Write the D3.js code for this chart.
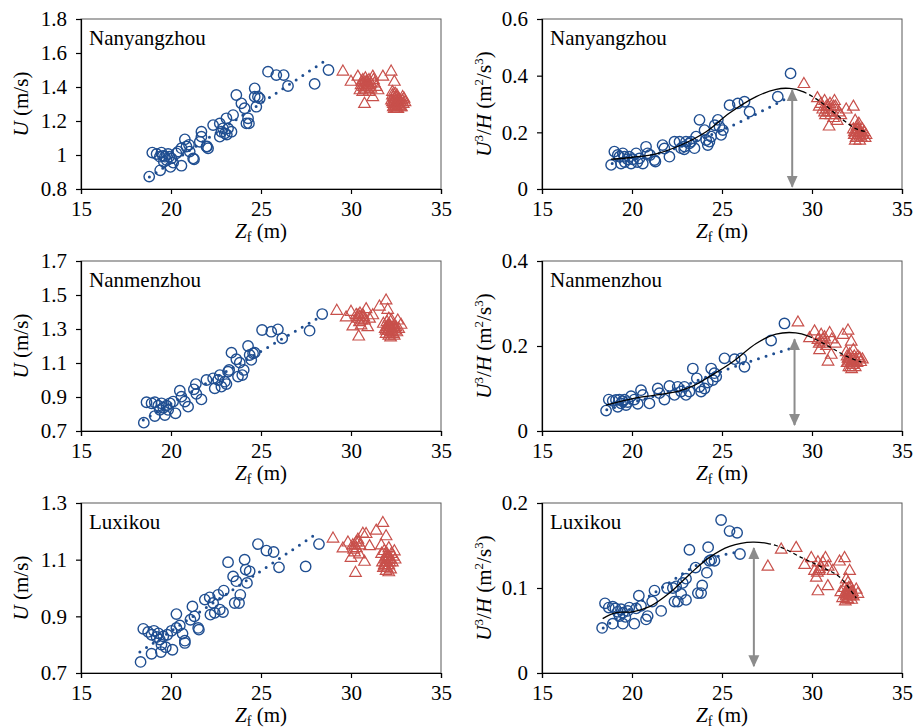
<!DOCTYPE html>
<html>
<head>
<meta charset="utf-8">
<script src="https://cdn.jsdelivr.net/npm/d3@7"></script>
<style>
  body { margin: 0; background: #fff; }
</style>
</head>
<body>
<div id="chart"></div>
<script>
// ---- data (Zf in m, U in m/s, U^3/H in m2/s3) ----
var stations = ["Nanyangzhou", "Nanmenzhou", "Luxikou"];
var xTicks = [15, 20, 25, 30, 35];
var yTicksU = [[0.8, 1, 1.2, 1.4, 1.6, 1.8], [0.7, 0.9, 1.1, 1.3, 1.5, 1.7], [0.7, 0.9, 1.1, 1.3]];
var yTicksP = [[0, 0.2, 0.4, 0.6], [0, 0.2, 0.4], [0, 0.1, 0.2]];

// Nanyangzhou, U
var nyU_circ = [[18.79,0.873],[18.96,1.014],[19.2,1.006],[19.38,0.99],[19.47,1.014],[19.55,0.995],[19.4,0.91],[19.66,0.99],
  [19.75,0.97],[19.84,1.006],[19.97,0.93],[20.03,0.98],[20.12,0.955],[20.3,1.01],[20.58,1.04],[20.58,0.937],[20.77,1.092],
  [20.86,1.05],[21.04,1.02],[21.23,0.98],[21.28,0.975],[21.6,1.078],[21.69,1.137],[21.69,1.108],[21.97,1.049],[22.06,1.039],
  [22.34,1.176],[22.71,1.186],[22.71,1.108],[22.8,1.137],[22.89,1.157],[22.99,1.127],[23.08,1.216],[23.17,1.157],[23.36,1.137],
  [23.45,1.235],[23.63,1.353],[23.91,1.304],[24.09,1.275],[24.19,1.186],[24.28,1.216],[24.33,1.186],[24.65,1.392],[24.65,1.343],
  [24.74,1.284],[24.83,1.343],[24.93,1.333],[25.39,1.49],[25.85,1.47],[26.26,1.47],[26.5,1.406],[27.98,1.418],[28.75,1.5],
  [19.6,0.96],[19.9,0.99],[20.4,1.02],[21.0,1.06],[22.0,1.05],[23.1,1.12]];
var nyU_tri = [[29.55,1.49],[30.0,1.43],[30.38,1.46],[30.5,1.38],[30.56,1.41],[30.66,1.44],[30.7,1.42],[30.75,1.39],[30.75,1.30],
  [30.8,1.45],[30.85,1.40],[30.9,1.43],[31.0,1.37],[31.05,1.41],[31.1,1.39],[31.21,1.46],[31.25,1.44],[31.21,1.34],[31.3,1.42],
  [31.4,1.40],[31.5,1.38],[31.77,1.46],[32.23,1.49],[32.41,1.43],[32.3,1.37],[32.25,1.32],[32.3,1.35],[32.35,1.30],[32.4,1.27],
  [32.45,1.33],[32.5,1.29],[32.55,1.31],[32.6,1.27],[32.65,1.33],[32.7,1.29],[32.75,1.31],[32.8,1.28],[32.85,1.32],[32.9,1.30],
  [32.95,1.33],[33.0,1.31],[32.45,1.36],[32.6,1.30],[32.4,1.29],[32.55,1.27],[32.87,1.34],[30.6,1.43],[30.95,1.41],
  [32.3,1.31],[32.35,1.34],[32.4,1.31],[32.45,1.30],[32.5,1.34],[32.5,1.27],[32.55,1.35],[32.6,1.32],[32.65,1.29],[32.7,1.32],
  [32.75,1.28],[32.4,1.33],[32.35,1.28],[32.55,1.30],[32.45,1.28],[30.7,1.40],[30.8,1.38],[30.9,1.41],[31.0,1.44],[30.65,1.37],
  [30.85,1.43],[31.1,1.42]];
var nyU_fit = [[18.8,0.87],[28.5,1.55]];

// Nanyangzhou, U^3/H
var nyP_circ = [[18.84,0.085],[19.02,0.132],[19.21,0.12],[19.3,0.114],[19.39,0.09],[19.49,0.126],[19.58,0.114],[19.76,0.105],
  [19.85,0.114],[19.95,0.09],[20.04,0.105],[20.23,0.126],[20.41,0.108],[20.6,0.09],[20.78,0.149],[20.87,0.126],[21.25,0.102],
  [21.3,0.097],[21.7,0.155],[21.8,0.143],[22.08,0.114],[22.36,0.167],[22.64,0.167],[22.73,0.144],[22.92,0.15],[23.0,0.167],
  [23.19,0.161],[23.28,0.167],[23.47,0.144],[23.56,0.185],[23.75,0.244],[24.03,0.208],[24.12,0.173],[24.21,0.155],[24.3,0.167],
  [24.4,0.185],[24.77,0.244],[24.86,0.22],[24.95,0.191],[25.05,0.208],[25.42,0.296],[25.88,0.302],[26.25,0.308],[26.53,0.273],
  [28.1,0.326],[28.81,0.408],[19.6,0.095],[20.3,0.095],[21.0,0.12],[22.9,0.14],[24.6,0.225]];
var nyP_tri = [[29.55,0.37],[30.3,0.32],[30.5,0.30],[30.6,0.28],[30.7,0.31],[30.75,0.26],[30.8,0.29],[30.9,0.27],[30.95,0.22],
  [31.0,0.30],[31.1,0.28],[31.2,0.25],[31.25,0.31],[31.3,0.29],[31.4,0.24],[31.5,0.27],[31.6,0.26],[31.9,0.28],[32.3,0.29],
  [32.4,0.24],[32.5,0.22],[32.3,0.21],[32.35,0.19],[32.45,0.2],[32.5,0.18],[32.55,0.21],[32.6,0.19],[32.65,0.17],[32.7,0.2],
  [32.75,0.18],[32.8,0.21],[32.85,0.19],[32.9,0.2],[32.95,0.18],[33.0,0.19],[32.4,0.17],[32.6,0.23],[30.4,0.29],[31.05,0.26],
  [32.4,0.19],[32.45,0.18],[32.5,0.2],[32.55,0.19],[32.6,0.2],[32.7,0.19],[32.35,0.2],[32.8,0.19],[32.65,0.185],[32.5,0.21],
  [30.8,0.28],[30.9,0.29],[31.0,0.27],[30.7,0.27],[31.2,0.29]];
var nyP_fit = [[18.9,0.09],[22.0,0.135],[24.9,0.205],[28.6,0.32]];
var nyP_curve = [[18.84,0.105],[20.04,0.112],[21.34,0.124],[22.82,0.158],[24.12,0.202],[25.42,0.268],[26.9,0.326],[28.01,0.352],
  [28.75,0.355],[29.49,0.344],[30.6,0.302],[31.72,0.244],[32.46,0.212],[33.02,0.202]];
var nyP_arrow = [28.9, 0.349, 0.008];

// Nanmenzhou, U
var nmU_circ = [[18.49,0.749],[18.64,0.869],[18.92,0.863],[19.1,0.869],[19.1,0.788],[19.29,0.849],[19.38,0.824],[19.47,0.863],
  [19.57,0.837],[19.66,0.794],[19.75,0.849],[19.84,0.824],[19.94,0.863],[20.12,0.873],[20.25,0.804],[20.49,0.937],[20.58,0.902],
  [20.77,0.873],[20.95,0.843],[21.27,0.945],[21.38,0.976],[21.41,0.918],[21.69,0.886],[21.97,1.0],[22.34,1.01],[22.43,0.951],
  [22.62,1.0],[22.71,1.029],[22.8,0.961],[22.99,0.99],[23.08,0.976],[23.17,1.049],[23.23,1.059],[23.36,1.161],[23.63,1.122],
  [23.72,1.02],[23.82,1.102],[23.96,1.029],[24.04,1.059],[24.28,1.2],[24.37,1.147],[24.46,1.118],[24.56,1.157],[24.65,1.161],
  [25.06,1.294],[25.57,1.284],[25.94,1.298],[26.18,1.245],[27.7,1.29],[28.4,1.388]];
var nmU_tri = [[29.21,1.406],[29.73,1.367],[30.0,1.40],[30.1,1.314],[30.29,1.382],[30.38,1.36],[30.47,1.34],[30.56,1.32],
  [30.43,1.255],[30.66,1.38],[30.84,1.416],[30.93,1.31],[31.03,1.36],[31.21,1.38],[31.58,1.431],[31.95,1.467],[32.04,1.412],
  [32.1,1.36],[31.8,1.33],[31.9,1.30],[31.95,1.27],[32.0,1.34],[32.05,1.29],[32.1,1.26],[32.15,1.32],[32.2,1.28],[32.25,1.35],
  [32.3,1.30],[32.35,1.27],[32.4,1.32],[32.45,1.29],[32.5,1.31],[32.55,1.28],[32.6,1.349],[32.65,1.30],[32.78,1.324],[32.2,1.25],
  [32.4,1.26],[30.5,1.39],[30.75,1.35],[32.0,1.31],[32.1,1.29],[32.2,1.31],[32.3,1.28],[32.15,1.27],[32.25,1.30],[32.05,1.32],
  [31.95,1.29],[32.35,1.31],[32.45,1.30],[30.5,1.37],[30.6,1.35],[30.4,1.38],[30.7,1.37]];
var nmU_fit = [[18.46,0.765],[28.35,1.376]];

// Nanmenzhou, U^3/H
var nmP_circ = [[18.56,0.048],[18.71,0.074],[18.93,0.071],[19.11,0.073],[19.21,0.057],[19.3,0.074],[19.39,0.065],[19.48,0.07],
  [19.58,0.074],[19.67,0.061],[19.76,0.068],[19.95,0.082],[20.13,0.074],[20.32,0.064],[20.5,0.096],[20.6,0.085],[20.97,0.065],
  [21.43,0.1],[21.52,0.089],[21.8,0.074],[22.08,0.106],[22.36,0.085],[22.54,0.104],[22.73,0.093],[22.91,0.104],[23.0,0.085],
  [23.19,0.093],[23.38,0.147],[23.6,0.124],[23.75,0.104],[23.84,0.093],[24.03,0.1],[24.21,0.114],[24.4,0.147],[24.49,0.12],
  [24.58,0.136],[24.68,0.128],[25.14,0.171],[25.7,0.169],[26.07,0.171],[26.25,0.151],[27.73,0.213],[28.47,0.253]];
var nmP_tri = [[29.22,0.255],[29.86,0.218],[30.14,0.234],[30.33,0.214],[30.42,0.19],[30.51,0.226],[30.6,0.205],[30.7,0.22],
  [30.89,0.163],[30.98,0.23],[31.07,0.179],[31.1,0.215],[31.3,0.205],[31.72,0.226],[32.0,0.236],[32.18,0.21],[31.9,0.185],
  [31.95,0.16],[32.0,0.17],[32.05,0.15],[32.1,0.18],[32.15,0.16],[32.2,0.145],[32.25,0.17],[32.3,0.155],[32.35,0.175],
  [32.4,0.15],[32.45,0.165],[32.5,0.16],[32.55,0.175],[32.65,0.171],[32.7,0.162],[32.8,0.168],[32.3,0.19],[30.8,0.2],
  [32.0,0.16],[32.1,0.165],[32.2,0.16],[32.15,0.15],[32.25,0.155],[32.3,0.165],[32.05,0.17],[32.35,0.16],[31.95,0.175],
  [30.5,0.21],[30.6,0.215],[30.4,0.205]];
var nmP_fit = [[18.6,0.05],[22.0,0.093],[25.4,0.147],[28.8,0.194]];
var nmP_curve = [[18.56,0.061],[20.23,0.078],[21.6,0.086],[22.6,0.094],[23.4,0.106],[24.3,0.128],[25.6,0.163],[26.9,0.206],
  [28.0,0.228],[29.1,0.231],[29.87,0.222],[30.98,0.198],[31.9,0.176],[32.74,0.162]];
var nmP_arrow = [29.03, 0.216, 0.014];

// Luxikou, U
var lxU_circ = [[18.31,0.739],[18.46,0.856],[18.73,0.845],[18.92,0.835],[18.92,0.768],[19.05,0.849],[19.2,0.827],[19.3,0.84],
  [19.38,0.818],[19.47,0.80],[19.57,0.829],[19.44,0.774],[19.71,0.791],[19.79,0.835],[20.03,0.849],[20.08,0.782],[20.3,0.859],
  [20.3,0.908],[20.49,0.868],[20.64,0.839],[20.77,0.814],[20.77,0.806],[21.08,0.888],[21.19,0.935],[21.3,0.90],[21.51,0.859],
  [21.55,0.853],[21.88,0.959],[22.15,0.967],[22.19,0.906],[22.34,0.947],[22.43,0.912],[22.62,0.976],[22.71,0.924],[22.89,0.915],
  [22.93,0.991],[23.17,1.091],[23.45,1.041],[23.54,0.947],[23.63,1.024],[23.78,0.947],[23.85,0.976],[24.09,1.1],[24.15,1.065],
  [24.22,1.018],[24.37,1.059],[24.83,1.155],[25.3,1.132],[25.7,1.127],[26.0,1.073],[27.48,1.076],[28.22,1.155]];
var lxU_tri = [[29.0,1.174],[29.55,1.139],[29.83,1.16],[30.0,1.106],[30.1,1.15],[30.2,1.125],[30.29,1.16],[30.38,1.17],
  [30.47,1.118],[30.66,1.191],[30.75,1.092],[30.84,1.19],[31.03,1.147],[30.25,1.053],[31.4,1.202],[31.77,1.229],[31.95,1.182],
  [31.68,1.15],[31.7,1.12],[31.75,1.09],[31.8,1.07],[31.85,1.13],[31.9,1.10],[31.95,1.06],[32.0,1.12],[32.05,1.08],[32.1,1.14],
  [32.15,1.10],[32.2,1.065],[32.25,1.12],[32.3,1.09],[32.35,1.11],[32.41,1.129],[32.45,1.10],[32.1,1.055],[31.9,1.075],
  [30.15,1.135],[30.5,1.15],[31.9,1.09],[32.0,1.10],[32.1,1.08],[32.0,1.07],[32.15,1.09],[31.95,1.11],[32.2,1.10],[31.85,1.08],
  [32.05,1.11],[30.2,1.15],[30.3,1.14],[30.4,1.16]];
var lxU_fit = [[18.27,0.774],[28.07,1.191]];

// Luxikou, U^3/H
var lxP_circ = [[18.34,0.053],[18.5,0.082],[18.71,0.077],[18.93,0.078],[18.93,0.058],[19.08,0.076],[19.2,0.072],[19.3,0.067],
  [19.39,0.075],[19.49,0.058],[19.5,0.071],[19.63,0.066],[19.76,0.073],[19.85,0.077],[20.13,0.058],[20.23,0.076],[20.38,0.091],
  [20.5,0.079],[20.78,0.063],[20.87,0.067],[21.12,0.084],[21.25,0.097],[21.62,0.073],[21.95,0.1],[22.27,0.1],[22.36,0.084],
  [22.45,0.102],[22.55,0.084],[22.73,0.093],[22.82,0.106],[23.0,0.086],[23.0,0.111],[23.19,0.145],[23.53,0.124],[23.66,0.094],
  [23.84,0.094],[23.9,0.103],[24.16,0.118],[24.23,0.148],[24.3,0.132],[24.4,0.133],[24.58,0.132],[24.95,0.18],[25.42,0.167],
  [25.84,0.165],[26.0,0.14]];
var lxP_tri = [[27.55,0.125],[28.29,0.145],[29.12,0.147],[29.59,0.127],[29.96,0.135],[30.14,0.12],[30.24,0.112],[30.33,0.13],
  [30.42,0.122],[30.6,0.13],[30.75,0.135],[30.33,0.096],[30.88,0.102],[31.16,0.12],[31.53,0.131],[31.81,0.135],[32.09,0.12],
  [32.0,0.106],[31.6,0.095],[31.7,0.088],[31.8,0.10],[31.85,0.084],[31.9,0.092],[31.95,0.098],[32.0,0.086],[32.05,0.094],
  [32.1,0.09],[32.15,0.1],[32.2,0.086],[32.25,0.095],[32.3,0.09],[32.46,0.098],[32.55,0.093],[31.9,0.11],[30.9,0.125],
  [31.9,0.09],[32.0,0.095],[32.1,0.092],[31.95,0.087],[32.05,0.1],[32.15,0.094],[31.85,0.093],[32.2,0.091],[30.4,0.12],
  [30.5,0.125],[30.3,0.118]];
var lxP_fit = [[18.4,0.053],[21.5,0.098],[24.3,0.134],[25.8,0.142]];
var lxP_curve = [[18.37,0.064],[19.11,0.071],[20.04,0.072],[20.97,0.078],[22.08,0.094],[23.19,0.116],[24.3,0.136],[25.42,0.149],
  [26.71,0.154],[28.0,0.15],[29.5,0.135],[30.6,0.124],[31.53,0.113],[32.46,0.088]];
var lxP_arrow = [26.77, 0.147, 0.008];

// ---- layout ----
var W = 916, H = 728;
var colLeft = [81, 542], rowTop = [19, 261, 503];
var pw = 360, ph = 170;
var blue = "#1f4e91", red = "#c8504b", gray = "#8c8c8c";
var serif = '"Liberation Serif", "Times New Roman", serif';
var fontSize = 21;

var panels = [
  { row: 0, col: 0, name: stations[0], kind: "U", domain: [0.8, 1.8], ticks: yTicksU[0], circ: nyU_circ, tri: nyU_tri, fit: nyU_fit },
  { row: 0, col: 1, name: stations[0], kind: "P", domain: [0, 0.6], ticks: yTicksP[0], circ: nyP_circ, tri: nyP_tri, fit: nyP_fit, curve: nyP_curve, split: 29.5, arrow: nyP_arrow },
  { row: 1, col: 0, name: stations[1], kind: "U", domain: [0.7, 1.7], ticks: yTicksU[1], circ: nmU_circ, tri: nmU_tri, fit: nmU_fit },
  { row: 1, col: 1, name: stations[1], kind: "P", domain: [0, 0.4], ticks: yTicksP[1], circ: nmP_circ, tri: nmP_tri, fit: nmP_fit, curve: nmP_curve, split: 29.8, arrow: nmP_arrow },
  { row: 2, col: 0, name: stations[2], kind: "U", domain: [0.7, 1.3], ticks: yTicksU[2], circ: lxU_circ, tri: lxU_tri, fit: lxU_fit },
  { row: 2, col: 1, name: stations[2], kind: "P", domain: [0, 0.2], ticks: yTicksP[2], circ: lxP_circ, tri: lxP_tri, fit: lxP_fit, curve: lxP_curve, split: 27.5, arrow: lxP_arrow }
];

var svg = d3.select("#chart").append("svg")
  .attr("width", W)
  .attr("height", H);

// arrow heads
svg.append("defs").append("marker")
  .attr("id", "ahead")
  .attr("markerUnits", "userSpaceOnUse")
  .attr("viewBox", "0 0 12 12")
  .attr("refX", 11).attr("refY", 6)
  .attr("markerWidth", 12).attr("markerHeight", 12)
  .attr("orient", "auto-start-reverse")
  .append("path")
  .attr("d", "M0,0.5 L12,6 L0,11.5 Z")
  .attr("fill", gray);

panels.forEach(function(p) {
  var x0 = colLeft[p.col], y0 = rowTop[p.row];
  var g = svg.append("g").attr("transform", `translate(${x0}, ${y0})`);

  var x = d3.scaleLinear().domain([15, 35]).range([0, pw]);
  var y = d3.scaleLinear().domain(p.domain).range([ph, 0]);

  // frame
  g.append("rect")
    .attr("width", pw).attr("height", ph)
    .attr("fill", "none")
    .attr("stroke", "#595959")
    .attr("stroke-width", 1);

  // axes
  var xAxis = d3.axisBottom(x).tickValues(xTicks).tickSizeOuter(0).tickSize(5).tickPadding(4);
  var yAxis = d3.axisLeft(y).tickValues(p.ticks).tickSizeOuter(0).tickSize(5).tickPadding(9)
    .tickFormat(d => String(d));

  var gx = g.append("g").attr("transform", `translate(0, ${ph})`).call(xAxis);
  var gy = g.append("g").call(yAxis);
  [gx, gy].forEach(function(a) {
    a.attr("font-family", null).attr("font-size", null);
    a.select(".domain").attr("stroke", "#000").attr("stroke-width", 1.2);
    a.selectAll(".tick line").attr("stroke", "#000").attr("stroke-width", 1.2);
    a.selectAll(".tick text")
      .style("font-family", serif)
      .style("font-size", fontSize + "px")
      .attr("fill", "#000");
  });
  gx.selectAll(".tick text").attr("dy", "0.85em");

  // x label
  var xl = g.append("text")
    .attr("x", pw / 2)
    .attr("y", ph + 49)
    .attr("text-anchor", "middle")
    .style("font-family", serif)
    .style("font-size", fontSize + "px");
  xl.append("tspan").attr("font-style", "italic").text("Z");
  xl.append("tspan").style("font-size", "14px").attr("dy", 4).text("f");
  xl.append("tspan").attr("dy", -4).text(" (m)");

  // y label
  var yl = g.append("text")
    .attr("transform", `translate(${p.col === 0 ? -60 : -58}, ${ph / 2}) rotate(-90)`)
    .attr("text-anchor", "middle")
    .attr("dy", "0.35em")
    .style("font-family", serif)
    .style("font-size", fontSize + "px");
  if (p.kind === "U") {
    yl.append("tspan").attr("font-style", "italic").text("U");
    yl.append("tspan").text(" (m/s)");
  } else {
    var sup = function(t) {
      yl.append("tspan").style("font-size", "13px").attr("dy", -8).text(t);
    };
    yl.append("tspan").attr("font-style", "italic").text("U");
    sup("3");
    yl.append("tspan").attr("dy", 8).text("/");
    yl.append("tspan").attr("font-style", "italic").text("H");
    yl.append("tspan").text(" (m");
    sup("2");
    yl.append("tspan").attr("dy", 8).text("/s");
    sup("3");
    yl.append("tspan").attr("dy", 8).text(")");
  }

  // station name
  g.append("text")
    .attr("x", 8)
    .attr("y", 26)
    .style("font-family", serif)
    .style("font-size", fontSize + "px")
    .text(p.name);

  var line = d3.line().x(d => x(d[0])).y(d => y(d[1])).curve(d3.curveMonotoneX);

  // blue dotted fit
  g.append("path")
    .datum(p.fit)
    .attr("d", line)
    .attr("fill", "none")
    .attr("stroke", blue)
    .attr("stroke-width", 3)
    .attr("stroke-linecap", "round")
    .attr("stroke-dasharray", "0,8");

  // circles
  g.append("g").selectAll("circle")
    .data(p.circ)
    .enter()
    .append("circle")
    .attr("cx", d => x(d[0]))
    .attr("cy", d => y(d[1]))
    .attr("r", 5.2)
    .attr("fill", "none")
    .attr("stroke", blue)
    .attr("stroke-width", 1.4);

  // triangles
  var tri = d3.symbol().type(d3.symbolTriangle).size(58);
  g.append("g").selectAll("path")
    .data(p.tri)
    .enter()
    .append("path")
    .attr("d", tri)
    .attr("transform", d => `translate(${x(d[0])}, ${y(d[1])})`)
    .attr("fill", "none")
    .attr("stroke", red)
    .attr("stroke-width", 1.2);

  // fitted curve: solid over the circles, dashed over the triangles
  if (p.curve) {
    var cl = d3.line().x(d => x(d[0])).y(d => y(d[1])).curve(d3.curveCatmullRom);
    var full = g.append("path")
      .datum(p.curve)
      .attr("d", cl)
      .attr("fill", "none")
      .attr("stroke", "#000")
      .attr("stroke-width", 1.3);
    var node = full.node();
    var total = node.getTotalLength();
    var lo = 0, hi = total;
    for (var i = 0; i < 30; i++) {
      var mid = (lo + hi) / 2;
      if (node.getPointAtLength(mid).x < x(p.split)) lo = mid; else hi = mid;
    }
    var pattern = [lo, 0];
    for (var acc = 0; acc < total - lo; acc += 7) pattern.push(4, 3);
    full.attr("stroke-dasharray", pattern.join(","));
  }

  // gray double arrow
  if (p.arrow) {
    g.append("line")
      .attr("x1", x(p.arrow[0])).attr("x2", x(p.arrow[0]))
      .attr("y1", y(p.arrow[1])).attr("y2", y(p.arrow[2]))
      .attr("stroke", gray)
      .attr("stroke-width", 2)
      .attr("marker-start", "url(#ahead)")
      .attr("marker-end", "url(#ahead)");
  }
});
</script>
</body>
</html>
